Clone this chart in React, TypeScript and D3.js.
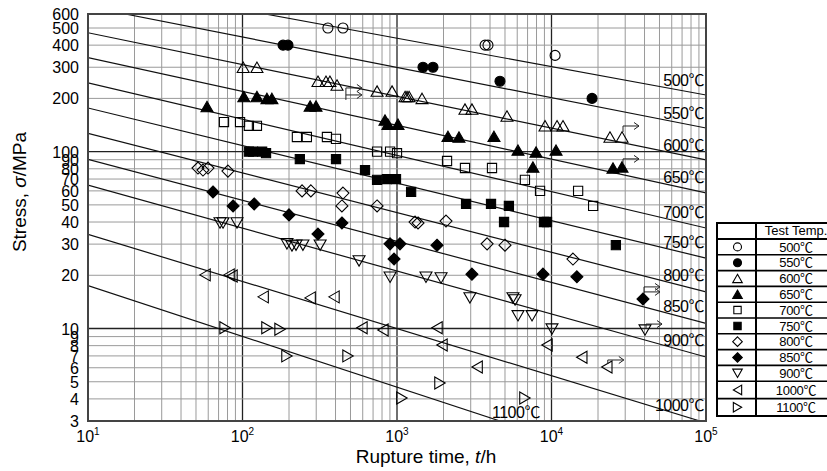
import React from 'react';
import * as d3 from 'd3';

// test temperatures, in legend order
const temps = ['500', '550', '600', '650', '700', '750', '800', '850', '900', '1000', '1100'];
const kinds = ['circle', 'circle', 'triUp', 'triUp', 'square', 'square', 'diamond', 'diamond', 'triDown', 'triLeft', 'triRight'];
const filled = [false, true, false, true, false, true, false, true, false, false, false];

// master curves (t/h, σ/MPa) at both ends
const curveFrom = [[140, 600], [17.4, 600], [10, 470], [10, 340], [10, 245], [10, 176.5], [10, 127], [10, 90.5], [10, 64.7], [10, 34.1], [10, 17.5]];
const curveTo = [[1e5, 209], [1e5, 136], [1e5, 89.7], [1e5, 58.4], [1e5, 37], [1e5, 25], [1e5, 16.1], [1e5, 10.7], [1e5, 6.9], [91400, 3], [4640, 3]];

// rupture data (t/h, σ/MPa)
const pts500 = [[357, 500], [447, 500], [3715, 400], [3880, 400], [10550, 350]];
const pts550 = [[183, 400], [197, 400], [1473, 300], [1710, 300], [4640, 250], [18300, 200]];
const pts600 = [[101, 300], [124, 300], [308, 250], [347, 250], [368, 250], [409, 238], [743, 220], [929, 220], [1128, 205], [1161, 205], [1197, 205], [1452, 200], [2754, 174], [3055, 174], [5150, 159], [9080, 140], [10860, 140], [11870, 140], [23900, 121], [28600, 121]];
const pts650 = [[58.9, 180], [102, 205], [124, 205], [144, 200], [155, 200], [274, 181], [299, 181], [836, 151], [874, 143], [1015, 143], [2138, 122], [2518, 121], [4243, 122], [6070, 102], [7940, 99.5], [10700, 102], [7580, 81.8], [25000, 80.8], [28600, 82]];
const pts700 = [[75.9, 147], [96.4, 147], [110, 140], [124, 140], [225, 121], [261, 121], [352, 121], [403, 118], [743, 100], [902, 100], [1000, 98], [2108, 88.5], [2754, 80.8], [4120, 80.8], [6730, 69.2], [8430, 60], [14870, 60], [18600, 49.3]];
const pts750 = [[110, 100], [117, 100], [134, 100], [142, 98], [235, 90.8], [403, 90.8], [621, 78.7], [743, 69.2], [861, 70], [985, 70], [1234, 59.2], [2800, 50.6], [4060, 50.6], [5300, 49.3], [4930, 40], [8940, 40], [9350, 40], [26100, 29.6]];
const pts800 = [[51.5, 80.8], [55.5, 78.7], [59.8, 80.8], [80.5, 77.6], [243, 60], [277, 60], [447, 58.3], [440, 49.3], [743, 49.3], [1309, 40], [1368, 39.5], [2076, 40.5], [3830, 30.1], [5000, 29.6], [13770, 24.7]];
const pts850 = [[64.4, 59.2], [86.9, 49.3], [119, 50.6], [200, 43.9], [308, 34.2], [440, 39.5], [902, 30.1], [1045, 30.1], [957, 24.7], [1815, 29.6], [3055, 20.3], [8810, 20.3], [14600, 19.6], [39100, 14.7]];
const pts900 = [[71.5, 39.5], [74.8, 39.5], [92.1, 39.5], [194, 30.1], [209, 29.3], [222, 29.6], [246, 29.6], [318, 29.6], [568, 24.1], [902, 19.5], [1540, 19.5], [1928, 19.3], [2965, 14.9], [5630, 14.9], [5810, 14.5], [6070, 11.8], [7480, 11.8], [10070, 9.93], [40300, 9.8]];
const pts1000 = [[57.2, 20.1], [81.8, 20.1], [85.5, 19.8], [136, 15.1], [274, 14.9], [391, 15.1], [593, 10.1], [811, 9.8], [1815, 10.1], [1955, 8.07], [3300, 6.06], [9350, 8.07], [15700, 6.88], [22800, 6.06]];
const pts1100 = [[77.1, 10.1], [144, 10.1], [175, 9.9], [194, 7.0], [482, 7.0], [1076, 4.05], [1897, 4.92], [6730, 4.05]];
const series = [pts500, pts550, pts600, pts650, pts700, pts750, pts800, pts850, pts900, pts1000, pts1100];

// unruptured specimens (t, σ, number of arrows)
const runouts = [[460, 196, 2], [28600, 121, 1], [28600, 82, 1], [39100, 14.7, 2], [40300, 9.8, 1], [22800, 6.06, 1]];
// arrow rise above the point, px
const runoutRise = [[0, 12, 5], [5, 11], [4, 8], [6, 12, 7], [2, 6], [3, 7]];

const yTickLabels = [3, 4, 5, 6, 7, 8, 9, 10, 20, 30, 40, 50, 60, 70, 80, 90, 100, 200, 300, 400, 500, 600];
const xTickExps = [1, 2, 3, 4, 5];

const W = 827;
const H = 471;
const L = 88, R = 706, T = 14, B = 421;
const FONT = "'Liberation Sans', Arial, 'Noto Sans CJK JP', sans-serif";

function shape(kind: string, s: number) {
  const h = 5.2 * s, w = 6 * s;
  switch (kind) {
    case 'circle': {
      const r = 5 * s;
      return `M${r},0A${r},${r} 0 1,1 ${-r},0A${r},${r} 0 1,1 ${r},0Z`;
    }
    case 'triUp': return `M0,${-h}L${w},${h}L${-w},${h}Z`;
    case 'triDown': return `M0,${h}L${w},${-h}L${-w},${-h}Z`;
    case 'triLeft': return `M${-h},0L${h},${-w}L${h},${w}Z`;
    case 'triRight': return `M${h},0L${-h},${-w}L${-h},${w}Z`;
    case 'square': { const a = 4.6 * s; return `M${-a},${-a}H${a}V${a}H${-a}Z`; }
    case 'diamond': { const a = 6 * s; return `M0,${-a}L${a},0L0,${a}L${-a},0Z`; }
  }
  return '';
}

function arrowPath(cx: number, cy: number, n: number, rise: number[]) {
  const x0 = cx + 1, len = 16;
  const ys = n === 2 ? [cy - rise[1], cy - rise[2]] : [cy - rise[1]];
  let d = `M${x0},${cy - rise[0]}V${ys[0]}`;
  ys.forEach(yy => {
    d += `M${x0},${yy}H${x0 + len}M${x0 + len - 5},${yy - 3.5}L${x0 + len},${yy}L${x0 + len - 5},${yy + 3.5}`;
  });
  return d;
}

export default function App() {
  const x = d3.scaleLog().domain([10, 1e5]).range([L, R]);
  const y = d3.scaleLog().domain([3, 600]).range([B, T]);

  const xGrid: number[] = [];
  for (let e = 1; e < 5; e++) for (let k = 1; k <= 9; k++) xGrid.push(k * Math.pow(10, e));
  const yGrid = yTickLabels;

  const line = d3.line<number[]>().x(d => x(d[0])).y(d => y(d[1]));

  // legend geometry
  const lgX0 = 717, lgX1 = 756, lgX2 = 836, lgTop = 223, lgHead = 239;
  const rowH = temps.map((_, i) => (i < 9 ? 15.8 : 17.4));
  const rowY: number[] = [];
  let acc = lgHead;
  rowH.forEach(h => { rowY.push(acc); acc += h; });
  const lgBottom = acc;

  return (
    <svg width={W} height={H} style={{ position: 'absolute', left: 0, top: 0, background: '#fff' }} fontFamily={FONT}>
      <defs>
        <clipPath id="plot"><rect x={L} y={T} width={R - L} height={B - T} /></clipPath>
      </defs>
      <g clipPath="url(#plot)">
        {xGrid.map(v => {
          const major = Math.abs(Math.log10(v) % 1) < 1e-9;
          return <line key={'xg' + v} x1={x(v)} x2={x(v)} y1={T} y2={B} stroke={major ? '#222' : '#9a9a9a'} strokeWidth={major ? 1.3 : 1} />;
        })}
        {yGrid.map(v => {
          const major = v === 10 || v === 100;
          return <line key={'yg' + v} x1={L} x2={R} y1={y(v)} y2={y(v)} stroke={major ? '#222' : '#9a9a9a'} strokeWidth={major ? 1.3 : 1} />;
        })}
        {temps.map((t, i) => (
          <path key={'c' + t} d={line([curveFrom[i], curveTo[i]]) || ''} fill="none" stroke="#111" strokeWidth={1.2} />
        ))}
      </g>

      {temps.map((t, i) => {
        const [t0, s0] = curveFrom[i];
        const [t1, s1] = curveTo[i];
        const yAt = (px: number) => y(s0) + (y(s1) - y(s0)) * (px - x(t0)) / (x(t1) - x(t0));
        if (t1 < 1e4) {
          return <text key={'lb' + t} x={x(t1) - 8} y={B - 3} fontSize={16} textAnchor="start" letterSpacing={-0.5}>{t}℃</text>;
        }
        return <text key={'lb' + t} x={704} y={yAt(680) - 4} fontSize={16} textAnchor="end" letterSpacing={-0.5}>{t}℃</text>;
      })}

      {series.map((pts, i) => (
        <g key={'s' + i}>
          {pts.map((p, j) => (
            <path key={j} transform={`translate(${x(p[0])},${y(p[1])})`} d={shape(kinds[i], 1)}
              fill={filled[i] ? '#000' : 'none'} stroke="#000" strokeWidth={1.1} />
          ))}
        </g>
      ))}

      {runouts.map((r, i) => (
        <path key={'ar' + i} d={arrowPath(x(r[0]), y(r[1]), r[2], runoutRise[i])} fill="none" stroke="#222" strokeWidth={1} />
      ))}

      <rect x={L} y={T} width={R - L} height={B - T} fill="none" stroke="#444" strokeWidth={2} />

      {yTickLabels.map(v => (
        <text key={'yt' + v} x={L - 9} y={y(v)} dy="0.38em" fontSize={16} textAnchor="end">{v}</text>
      ))}
      {xTickExps.map(e => (
        <text key={'xt' + e} x={x(Math.pow(10, e))} y={442} fontSize={16} textAnchor="middle">
          10<tspan dy={-7} fontSize={10}>{e}</tspan>
        </text>
      ))}

      <text x={426} y={463} fontSize={19} textAnchor="middle">
        Rupture time, <tspan fontStyle="italic">t</tspan>/h
      </text>
      <text transform={`translate(26,192) rotate(-90)`} fontSize={19} textAnchor="middle">
        Stress, <tspan fontStyle="italic">σ</tspan>/MPa
      </text>

      {/* legend table */}
      <g>
        <rect x={lgX0} y={lgTop} width={lgX2 - lgX0} height={lgBottom - lgTop} fill="#fff" stroke="#000" strokeWidth={2} />
        <line x1={lgX1} x2={lgX1} y1={lgTop} y2={lgBottom} stroke="#000" strokeWidth={2} />
        <line x1={lgX0} x2={lgX2} y1={lgHead} y2={lgHead} stroke="#000" strokeWidth={2} />
        <text x={(lgX1 + lgX2) / 2} y={lgHead - 4} fontSize={13} textAnchor="middle">Test Temp.</text>
        {temps.map((t, i) => (
          <g key={'lg' + t}>
            {i > 0 && <line x1={lgX0} x2={lgX2} y1={rowY[i]} y2={rowY[i]} stroke="#000" strokeWidth={1.6} />}
            <path transform={`translate(${(lgX0 + lgX1) / 2 + 1},${rowY[i] + rowH[i] / 2})`} d={shape(kinds[i], 0.8)}
              fill={filled[i] ? '#000' : 'none'} stroke="#000" strokeWidth={1.1} />
            <text x={(lgX1 + lgX2) / 2} y={rowY[i] + rowH[i] / 2} dy="0.36em" fontSize={13} textAnchor="middle" letterSpacing={-0.3}>{t}℃</text>
          </g>
        ))}
      </g>
    </svg>
  );
}
